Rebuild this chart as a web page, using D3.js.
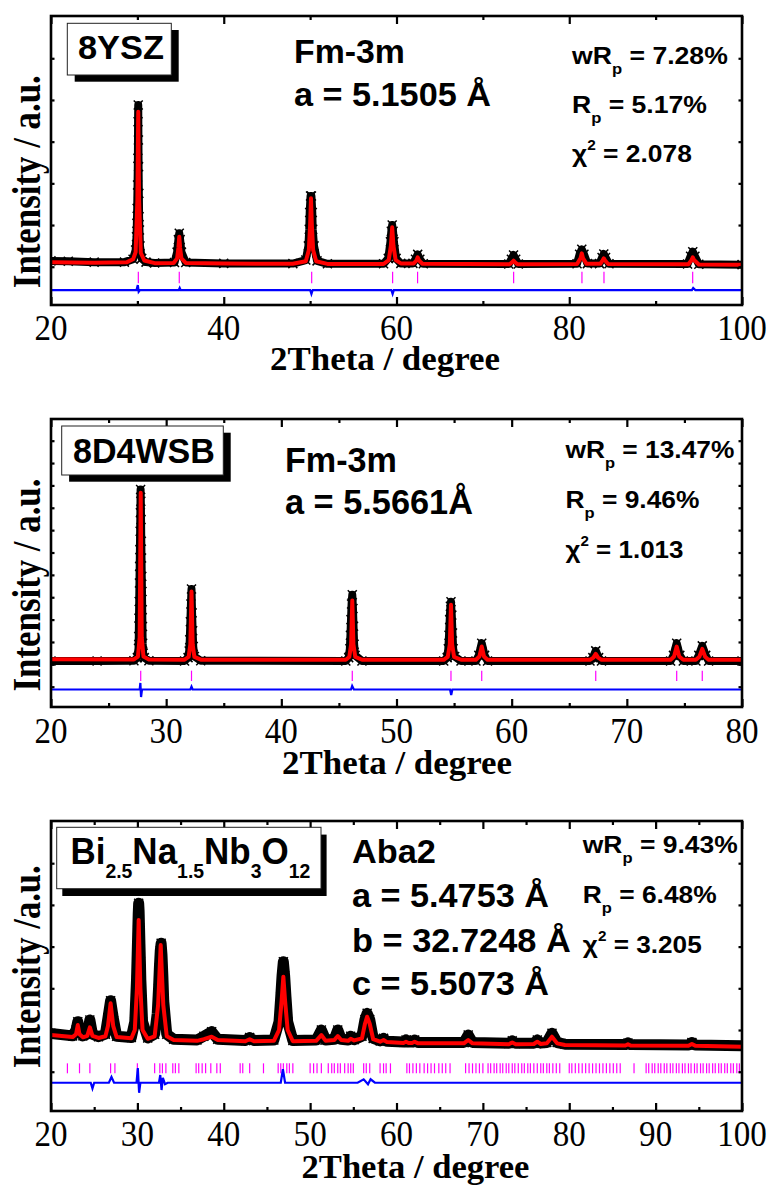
<!DOCTYPE html>
<html><head><meta charset="utf-8">
<script src="https://cdn.jsdelivr.net/npm/d3@7"></script>
<style>body{margin:0;background:#fff}svg{display:block}</style>
</head><body>
<svg id="c" width="774" height="1185"></svg>
<script>
// ---------------- DATA (2θ in degrees, intensity in counts) ----------------
// Panel 1: 8YSZ
const calcTop = [[20,1110],[25,1095],[28.8,1110],[29.5,1180],[29.8,1350],[30.0,2600],[30.1,4717],[30.2,2600],[30.4,1330],[30.8,1150],[32,1085],[34.2,1090],[34.6,1200],[34.75,1450],[34.85,1719],[34.95,1450],[35.1,1200],[35.6,1090],[40,1075],[48,1070],[49.5,1130],[49.85,1400],[50.0,2000],[50.1,2640],[50.2,2000],[50.35,1400],[50.7,1130],[52,1068],[58.5,1065],[59.1,1160],[59.35,1500],[59.5,1945],[59.65,1500],[59.9,1160],[60.5,1080],[62.0,1080],[62.3,1150],[62.45,1225],[62.6,1150],[63,1070],[73.1,1060],[73.4,1110],[73.55,1144],[73.7,1110],[74,1060],[80.9,1065],[81.3,1200],[81.45,1321],[81.6,1200],[82,1070],[83.6,1070],[83.85,1150],[84.0,1201],[84.15,1150],[84.5,1065],[93.8,1060],[94.15,1160],[94.3,1225],[94.45,1160],[95,1055],[100,1045]];
const obsTop = [[20,1140],[22,1130],[25,1110],[28.5,1110],[29.5,1180],[29.8,1400],[29.9,1719],[29.94,2041],[29.98,2400],[30.02,2959],[30.06,3600],[30.08,4477],[30.1,4878],[30.12,4038],[30.14,3398],[30.17,2760],[30.2,2199],[30.24,1880],[30.3,1500],[30.5,1200],[31,1110],[32,1090],[34.3,1100],[34.6,1350],[34.75,1650],[34.85,1801],[34.95,1650],[35.1,1350],[35.6,1100],[40,1080],[48,1075],[49.5,1160],[49.8,1500],[49.9,1900],[49.95,2300],[50.05,2695],[50.15,2695],[50.25,2300],[50.3,1900],[50.45,1500],[50.8,1140],[52,1070],[58.5,1070],[59.05,1200],[59.3,1600],[59.4,1850],[59.5,2000],[59.6,1850],[59.7,1600],[59.95,1200],[60.5,1080],[61.9,1080],[62.2,1180],[62.45,1297],[62.7,1180],[63.1,1070],[73.0,1065],[73.3,1180],[73.55,1281],[73.8,1180],[74.1,1065],[80.9,1070],[81.2,1300],[81.45,1417],[81.7,1300],[82.1,1075],[83.5,1075],[83.8,1220],[84.0,1305],[84.2,1220],[84.6,1070],[93.7,1065],[94.05,1250],[94.3,1360],[94.55,1250],[95.0,1060],[100,1050]];
const diffTop = [[20,441],[29.9,441],[30.05,560],[30.15,400],[30.3,441],[34.8,441],[34.9,490],[35,441],[50.0,441],[50.15,345],[50.3,441],[59.4,441],[59.55,345],[59.7,441],[94.2,441],[94.35,489],[94.6,441],[100,441]];
const braggTop = [30.11,34.85,50.18,59.55,62.44,73.56,81.47,84.02,94.29];
const yTicksTop = [1000,2000,3000,4000,5000,6000];
const xMajorTop = [20,40,60,80,100];
const xMinorTop = [30,50,70,90];

// Panel 2: 8D4WSB
const calcMid = [[20,2230],[27.2,2220],[27.55,2350],[27.7,3200],[27.79,9672],[27.88,3200],[28.03,2350],[28.5,2215],[31.6,2210],[31.95,2330],[32.1,2900],[32.2,5260],[32.3,2900],[32.45,2330],[33,2210],[45.6,2205],[45.9,2330],[46.06,2900],[46.16,4856],[46.26,2900],[46.42,2330],[47,2205],[54.1,2200],[54.45,2330],[54.63,2900],[54.73,4663],[54.83,2900],[55.0,2330],[55.6,2205],[56.9,2205],[57.2,2350],[57.4,2794],[57.6,2350],[57.9,2205],[66.8,2200],[67.1,2300],[67.3,2466],[67.5,2300],[67.8,2200],[73.8,2200],[74.1,2350],[74.33,2794],[74.55,2350],[74.9,2205],[76.0,2205],[76.3,2340],[76.55,2690],[76.8,2340],[77.1,2200],[80,2200]];
const obsMid = [[20,2150],[24,2150],[27.2,2160],[27.5,2300],[27.6,2722],[27.62,3242],[27.64,4067],[27.66,4811],[27.68,5636],[27.7,6380],[27.72,7130],[27.74,7950],[27.76,8775],[27.78,9820],[27.8,9295],[27.82,8475],[27.84,7502],[27.86,6757],[27.88,5932],[27.9,5260],[27.92,4439],[27.94,3690],[27.96,2946],[28.0,2500],[28.1,2300],[28.5,2160],[31.6,2150],[31.9,2300],[32.0,2600],[32.05,3100],[32.1,3900],[32.15,4700],[32.2,5367],[32.25,4300],[32.3,3500],[32.35,2800],[32.45,2350],[33,2160],[45.6,2150],[45.85,2300],[45.95,2700],[46.0,3300],[46.05,4000],[46.1,4700],[46.16,5112],[46.22,4500],[46.27,3700],[46.32,2900],[46.4,2400],[47,2150],[54.1,2150],[54.4,2300],[54.5,2700],[54.56,3300],[54.62,4000],[54.68,4600],[54.73,4798],[54.8,4200],[54.86,3400],[54.92,2700],[55.05,2350],[55.6,2150],[56.9,2150],[57.15,2400],[57.4,2946],[57.65,2400],[57.9,2150],[66.8,2150],[67.05,2300],[67.3,2601],[67.55,2300],[67.8,2150],[73.8,2150],[74.05,2400],[74.33,2946],[74.6,2400],[74.9,2150],[76.0,2150],[76.25,2400],[76.55,2825],[76.85,2400],[77.1,2150],[80,2150]];
const diffMid = [[20,874],[27.7,874],[27.76,1166],[27.82,538],[27.9,874],[32.1,874],[32.2,1000],[32.3,874],[46.05,874],[46.15,1031],[46.3,874],[54.65,874],[54.75,628],[54.85,874],[80,874]];
const braggMid = [27.79,32.2,46.16,54.73,57.4,67.3,74.33,76.55];
const yTicksMid = [1000,2000,3000,4000,5000,6000,7000,8000,9000,10000,11000,12000];
const xMajorMid = [20,30,40,50,60,70,80];
const xMinorMid = [25,35,45,55,65,75];

// Panel 3: Bi2.5Na1.5Nb3O12
const calcBot = [[20,1880],[22.5,1830],[22.9,1900],[23.1,2120],[23.3,1900],[23.7,1825],[24.2,1860],[24.5,2065],[24.8,1860],[25.5,1810],[26.3,1850],[26.6,2100],[26.9,2640],[27.2,2100],[27.6,1830],[29.3,1800],[29.7,2000],[29.95,3000],[30.15,4638],[30.35,3000],[30.6,2000],[31.2,1790],[32.0,1850],[32.4,2600],[32.7,4038],[33.0,2600],[33.4,1850],[34.2,1760],[36.9,1740],[37.7,1780],[38.6,1839],[39.3,1760],[42.5,1730],[43.0,1780],[43.5,1730],[45.8,1740],[46.4,2000],[46.7,2700],[46.9,3278],[47.1,2700],[47.4,2000],[48,1730],[50.7,1740],[51.3,1880],[51.8,1740],[52.8,1760],[53.2,1856],[53.6,1760],[54.4,1740],[54.7,1790],[55.1,1750],[56.0,1800],[56.35,2150],[56.6,2319],[56.9,2150],[57.3,1780],[58.1,1720],[58.5,1760],[58.9,1710],[60.8,1690],[61.1,1720],[61.4,1690],[61.8,1690],[62.1,1720],[62.5,1680],[67.8,1680],[68.3,1761],[68.8,1680],[73,1660],[73.4,1700],[73.8,1660],[75.9,1665],[76.3,1720],[76.7,1665],[77.4,1680],[78.0,1839],[78.6,1680],[79.5,1640],[86.5,1630],[86.8,1660],[87.1,1630],[93.8,1620],[94.2,1665],[94.6,1620],[100,1600]];
const obsBot = [[20,1920],[22.5,1860],[22.9,2000],[23.1,2199],[23.3,2000],[23.7,1860],[24.2,1900],[24.5,2240],[24.8,1900],[25.5,1840],[26.3,1900],[26.6,2300],[26.9,2703],[27.2,2300],[27.6,1850],[29.3,1820],[29.7,2200],[29.9,3200],[29.95,3600],[30.0,4000],[30.05,4400],[30.1,4800],[30.15,5038],[30.2,4850],[30.25,4450],[30.3,4050],[30.35,3650],[30.4,3200],[30.6,2200],[31.2,1810],[32.0,1900],[32.3,2400],[32.45,3000],[32.55,3500],[32.65,3900],[32.75,4079],[32.85,3800],[32.95,3300],[33.05,2700],[33.4,1900],[34.2,1780],[36.9,1760],[37.7,1850],[38.6,1959],[39.3,1780],[42.5,1750],[43.0,1820],[43.5,1750],[45.8,1760],[46.4,2200],[46.6,2800],[46.75,3300],[46.9,3638],[47.05,3300],[47.2,2800],[47.4,2200],[48,1750],[50.7,1760],[51.3,2000],[51.8,1760],[52.8,1780],[53.2,2000],[53.6,1780],[54.4,1760],[54.7,1850],[55.1,1770],[56.0,1850],[56.35,2250],[56.6,2400],[56.9,2250],[57.3,1800],[58.1,1740],[58.5,1800],[58.9,1730],[60.8,1710],[61.1,1760],[61.4,1710],[61.8,1710],[62.1,1760],[62.5,1700],[67.8,1700],[68.3,1880],[68.8,1700],[73,1680],[73.4,1740],[73.8,1680],[75.9,1685],[76.3,1760],[76.7,1685],[77.4,1700],[78.0,1921],[78.6,1700],[79.5,1660],[86.5,1650],[86.8,1690],[87.1,1650],[93.8,1640],[94.2,1700],[94.6,1640],[100,1620]];
const diffBot = [[20,736],[24.6,736],[24.8,600],[25,736],[26.7,736],[27,873],[27.3,736],[29.9,736],[30.05,1089],[30.2,496],[30.35,736],[32.5,736],[32.65,920],[32.8,561],[32.95,850],[33.2,700],[33.5,736],[46.6,736],[46.85,1058],[47.1,736],[55.5,736],[56.2,818],[56.7,700],[57.0,818],[57.5,736],[100,736]];
const braggBot = [21.9,23.3,24.5,26.9,27.4,30.0,32.0,32.6,32.9,33.3,34.1,34.4,34.8,36.8,37.1,37.5,37.9,38.5,39.2,39.6,41.9,42.2,43.0,44.6,46.3,46.6,46.9,47.3,47.6,48.0,50.0,50.4,50.8,51.3,52.1,52.5,52.8,53.2,53.5,54.0,54.4,54.7,55.0,56.2,56.5,56.9,58.1,58.5,58.8,59.3,61.2,61.5,61.9,62.3,62.7,63.2,63.6,64.0,64.4,64.9,65.3,65.7,66.2,68.0,68.4,68.8,69.2,69.6,70.0,70.6,70.9,71.3,71.6,72.0,72.3,72.7,73.0,73.4,73.7,74.1,74.5,74.8,75.2,75.5,75.9,76.3,76.7,77.0,77.4,77.7,78.1,78.5,78.9,80.0,80.3,80.7,81.1,81.5,81.9,82.3,82.7,83.1,83.5,83.9,84.3,84.7,85.1,85.5,85.9,87.5,88.9,89.2,89.6,89.9,90.3,90.6,91.0,91.3,91.7,92.0,92.4,92.7,93.1,93.4,93.8,94.1,94.5,94.8,95.2,95.5,95.9,96.2,96.6,96.9,97.3,97.6,98.0,98.3,98.7,99.0,99.4,99.7];
const yTicksBot = [1000,2000,3000,4000,5000,6000];
const xMajorBot = [20,30,40,50,60,70,80,90,100];
const xMinorBot = [25,35,45,55,65,75,85,95];

// ---------------- DRAWING ----------------
const svg = d3.select('#c');
const L = 51, R = 742;
const SANS = "'Liberation Sans', Arial, sans-serif";
const SERIF = "'Liberation Serif', 'Times New Roman', serif";

const panels = [
  {top:16, bottom:305, xDom:[20,100], yDom:[82,7014], obs:obsTop, calc:calcTop, diff:diffTop, bragg:braggTop, braggY:[602,880],
   yTicks:yTicksTop, major:xMajorTop, minor:xMinorTop, band:8, tickBase:340},
  {top:419, bottom:707, xDom:[20,80], yDom:[92,12970], obs:obsMid, calc:calcMid, diff:diffMid, bragg:braggMid, braggY:[1256,1717],
   yTicks:yTicksMid, major:xMajorMid, minor:xMinorMid, band:8, tickBase:743},
  {top:821, bottom:1111, xDom:[20,100], yDom:[58,7012], obs:obsBot, calc:calcBot, diff:diffBot, bragg:braggBot, braggY:[962,1201],
   yTicks:yTicksBot, major:xMajorBot, minor:xMinorBot, band:11, tickBase:1146}
];

const cross = 'M-4.5,-4.5L4.5,4.5M-4.5,4.5L4.5,-4.5';

panels.forEach((P, i) => {
  const x = d3.scaleLinear().domain(P.xDom).range([L, R]);
  const y = d3.scaleLinear().domain(P.yDom).range([P.bottom, P.top]);
  const line = d3.line().x(d => x(d[0])).y(d => y(d[1]));
  svg.append('clipPath').attr('id', 'clip' + i).append('rect')
    .attr('x', L).attr('y', P.top).attr('width', R - L).attr('height', P.bottom - P.top);
  const g = svg.append('g');
  const pl = g.append('g').attr('clip-path', `url(#clip${i})`);

  pl.append('path').datum(P.obs).attr('d', line).attr('fill', 'none')
    .attr('stroke', '#000').attr('stroke-width', P.band).attr('stroke-linejoin', 'round');
  pl.selectAll('path.mk').data(P.obs).join('path').attr('class', 'mk')
    .attr('transform', d => `translate(${x(d[0])},${y(d[1])})`)
    .attr('d', cross).attr('stroke', '#000').attr('stroke-width', 1.5).attr('fill', 'none');
  pl.append('path').datum(P.calc).attr('d', line).attr('fill', 'none')
    .attr('stroke', '#ff0000').attr('stroke-width', 4).attr('stroke-linejoin', 'round');
  pl.selectAll('line.bg').data(P.bragg).join('line').attr('class', 'bg')
    .attr('x1', d => x(d)).attr('x2', d => x(d))
    .attr('y1', y(P.braggY[0])).attr('y2', y(P.braggY[1]))
    .attr('stroke', '#ff00ff').attr('stroke-width', 1.2);
  pl.append('path').datum(P.diff).attr('d', line).attr('fill', 'none')
    .attr('stroke', '#0000ff').attr('stroke-width', 2.2);

  // ticks (inward)
  const tk = s => s.call(a => a.select('.domain').remove())
    .call(a => a.selectAll('line').attr('stroke', '#000').attr('stroke-width', 2.2));
  g.append('g').attr('transform', `translate(0,${P.bottom})`)
    .call(d3.axisBottom(x).tickValues(P.major).tickSize(-8).tickFormat('')).call(tk);
  g.append('g').attr('transform', `translate(0,${P.bottom})`)
    .call(d3.axisBottom(x).tickValues(P.minor).tickSize(-4).tickFormat('')).call(tk);
  g.append('g').attr('transform', `translate(0,${P.top})`)
    .call(d3.axisTop(x).tickValues(P.major).tickSize(-8).tickFormat('')).call(tk);
  g.append('g').attr('transform', `translate(0,${P.top})`)
    .call(d3.axisTop(x).tickValues(P.minor).tickSize(-4).tickFormat('')).call(tk);
  g.append('g').attr('transform', `translate(${L},0)`)
    .call(d3.axisLeft(y).tickValues(P.yTicks).tickSize(-3.5).tickFormat('')).call(tk);
  g.append('g').attr('transform', `translate(${R},0)`)
    .call(d3.axisRight(y).tickValues(P.yTicks).tickSize(-3.5).tickFormat('')).call(tk);

  g.append('rect').attr('x', L).attr('y', P.top).attr('width', R - L).attr('height', P.bottom - P.top)
    .attr('fill', 'none').attr('stroke', '#000').attr('stroke-width', 2.6);

  g.selectAll('text.tl').data(P.major).join('text').attr('class', 'tl')
    .attr('transform', d => `translate(${x(d)},${P.tickBase}) scale(0.92,1)`)
    .attr('text-anchor', 'middle').attr('font-family', SERIF).attr('font-size', 36)
    .text(d => d);
});

// ---------------- TEXT ----------------
function drawText(sp) {
  const g = svg.append('g');
  const t = g.append('text')
    .attr('font-family', sp.family || SANS)
    .attr('font-weight', 'bold')
    .attr('font-size', sp.size)
    .attr('text-anchor', sp.anchor || 'start');
  sp.parts.forEach(p => {
    const ts = t.append('tspan').text(p.t);
    if (p.size) ts.attr('font-size', p.size);
    if (p.dy) ts.attr('dy', p.dy);
    if (p.family) ts.attr('font-family', p.family);
  });
  const bw = t.node().getBBox().width;
  const s = sp.w ? sp.w / bw : 1;
  g.attr('transform', `translate(${sp.x},${sp.y})` + (sp.rot ? ` rotate(${sp.rot})` : '') + ` scale(${s},1)`);
}
function box(b) {
  svg.append('rect').attr('x', b.x + b.dx).attr('y', b.y + b.dy).attr('width', b.w).attr('height', b.h).attr('fill', '#000');
  svg.append('rect').attr('x', b.x).attr('y', b.y).attr('width', b.w).attr('height', b.h)
    .attr('fill', '#fff').attr('stroke', '#222').attr('stroke-width', 1);
}
box({x:67.3, y:23.3, w:104, h:51.7, dx:7.4, dy:6.7});
box({x:61.7, y:426, w:161.6, h:49, dx:7.4, dy:6.7});
box({x:56.7, y:827.3, w:264.3, h:61.4, dx:5.6, dy:7.3});

const sub = (s, d) => ({t:s, size:15, dy:d});
const texts = [
  // panel 1
  {x:78, y:59, w:86, size:34, parts:[{t:'8YSZ'}]},
  {x:294, y:63, w:111, size:33, parts:[{t:'Fm-3m'}]},
  {x:294, y:106, w:197, size:33, parts:[{t:'a = 5.1505 Å'}]},
  {x:572, y:64, w:157, size:24, parts:[{t:'wR'}, sub('p',10), {t:' = 7.28%', dy:-10}]},
  {x:572, y:113, w:135, size:24, parts:[{t:'R'}, sub('p',10), {t:' = 5.17%', dy:-10}]},
  {x:572, y:162, w:120, size:24, parts:[{t:'χ'}, {t:'2', size:14, dy:-12}, {t:' = 2.078', dy:12}]},
  // panel 2
  {x:73, y:463, w:142, size:35, parts:[{t:'8D4WSB'}]},
  {x:285, y:471.7, w:112, size:35, parts:[{t:'Fm-3m'}]},
  {x:285, y:514, w:188, size:35, parts:[{t:'a = 5.5661Å'}]},
  {x:565.5, y:458.3, w:170, size:24, parts:[{t:'wR'}, sub('p',10), {t:' = 13.47%', dy:-10}]},
  {x:565.5, y:508.3, w:134, size:24, parts:[{t:'R'}, sub('p',10), {t:' = 9.46%', dy:-10}]},
  {x:565.5, y:558.3, w:118, size:24, parts:[{t:'χ'}, {t:'2', size:14, dy:-12}, {t:' = 1.013', dy:12}]},
  // panel 3
  {x:70.4, y:864, w:240, size:36, parts:[{t:'Bi'}, {t:'2.5', size:20, dy:14}, {t:'Na', dy:-14}, {t:'1.5', size:20, dy:14}, {t:'Nb', dy:-14}, {t:'3', size:20, dy:14}, {t:'O', dy:-14}, {t:'12', size:20, dy:14}]},
  {x:352, y:863.3, w:84, size:33, parts:[{t:'Aba2'}]},
  {x:352, y:907.3, w:197, size:33, parts:[{t:'a = 5.4753 Å'}]},
  {x:352, y:951.7, w:219, size:33, parts:[{t:'b = 32.7248 Å'}]},
  {x:352, y:995, w:197, size:33, parts:[{t:'c = 5.5073 Å'}]},
  {x:582.8, y:853.3, w:156, size:24, parts:[{t:'wR'}, sub('p',10), {t:' = 9.43%', dy:-10}]},
  {x:582.8, y:903.3, w:134, size:24, parts:[{t:'R'}, sub('p',10), {t:' = 6.48%', dy:-10}]},
  {x:582.8, y:953.3, w:119, size:24, parts:[{t:'χ'}, {t:'2', size:14, dy:-12}, {t:' = 3.205', dy:12}]},
  // axis titles
  {x:385, y:370, w:230, size:33, anchor:'middle', family:SERIF, parts:[{t:'2Theta / degree'}]},
  {x:397, y:774, w:230, size:33, anchor:'middle', family:SERIF, parts:[{t:'2Theta / degree'}]},
  {x:415.5, y:1177.5, w:228, size:33, anchor:'middle', family:SERIF, parts:[{t:'2Theta / degree'}]},
  {x:40, y:181.7, w:213, size:39, anchor:'middle', rot:-90, family:SERIF, parts:[{t:'Intensity / a.u.'}]},
  {x:40, y:585, w:213, size:39, anchor:'middle', rot:-90, family:SERIF, parts:[{t:'Intensity / a.u.'}]},
  {x:40, y:966.7, w:203, size:39, anchor:'middle', rot:-90, family:SERIF, parts:[{t:'Intensity /a.u.'}]}
];
texts.forEach(drawText);
</script>
</body></html>
